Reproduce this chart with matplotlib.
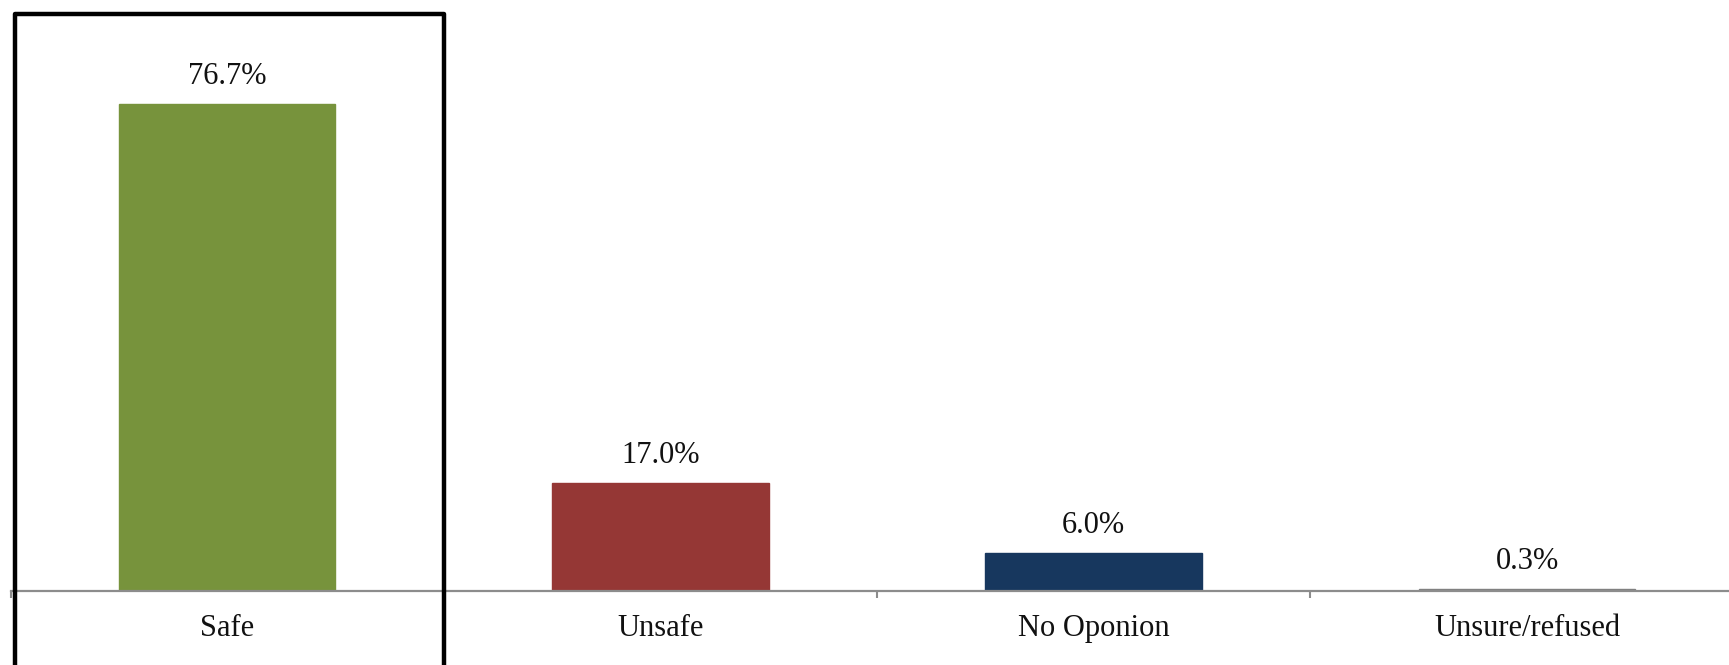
import matplotlib
matplotlib.use("Agg")
import matplotlib.pyplot as plt
from matplotlib.lines import Line2D

categories = ["Safe", "Unsafe", "No Oponion", "Unsure/refused"]
values = [76.7, 17.0, 6.0, 0.3]
labels = ["76.7%", "17.0%", "6.0%", "0.3%"]
colors = ["#77933C", "#953735", "#17375E", "#7F7F7F"]

W, H = 1729, 665
fig = plt.figure(figsize=(W / 100, H / 100), dpi=100)
plt.rcParams['font.family'] = ['Liberation Serif', 'DejaVu Serif']

# axes geometry (pixels)
x_left = 10.5
cat_w = 433.3
base_y = 591
px_per_unit = 6.35
ymax = 85
ax = fig.add_axes([x_left / W, (H - base_y) / H, 4 * cat_w / W, ymax * px_per_unit / H])

x = list(range(len(categories)))
ax.bar(x, values, width=0.5, color=colors, edgecolor=colors, linewidth=1.0, zorder=2)
ax.set_xlim(-0.5, 3.5)
ax.set_ylim(0, ymax)

for xi, v, lab in zip(x, values, labels):
    ax.annotate(lab, (xi, v), xytext=(0, 14.4), textcoords='offset points',
                ha='center', va='baseline', fontsize=22, color='#111111')

for s in ['top', 'right', 'left']:
    ax.spines[s].set_visible(False)
ax.spines['bottom'].set_color('#8c8c8c')
ax.spines['bottom'].set_linewidth(1.6)
ax.spines['bottom'].set_zorder(3)
ax.set_yticks([])
ax.set_xticks(x)
ax.set_xticklabels(categories, fontsize=22, color='#111111')
ax.tick_params(axis='x', which='major', length=0, pad=16.5)
ax.set_xticks([-0.5, 0.5, 1.5, 2.5, 3.5], minor=True)
ax.tick_params(axis='x', which='minor', length=5, width=1.5, color='#8c8c8c', direction='out')

# highlight box around first category
bx = [15 / W, 15 / W, 444 / W, 444 / W]
by = [-20 / H, (H - 14) / H, (H - 14) / H, -20 / H]
fig.add_artist(Line2D(bx, by, transform=fig.transFigure, color='black', lw=3.2,
                      solid_joinstyle='round', solid_capstyle='butt', zorder=5))

fig.savefig("out.png", dpi=100)
